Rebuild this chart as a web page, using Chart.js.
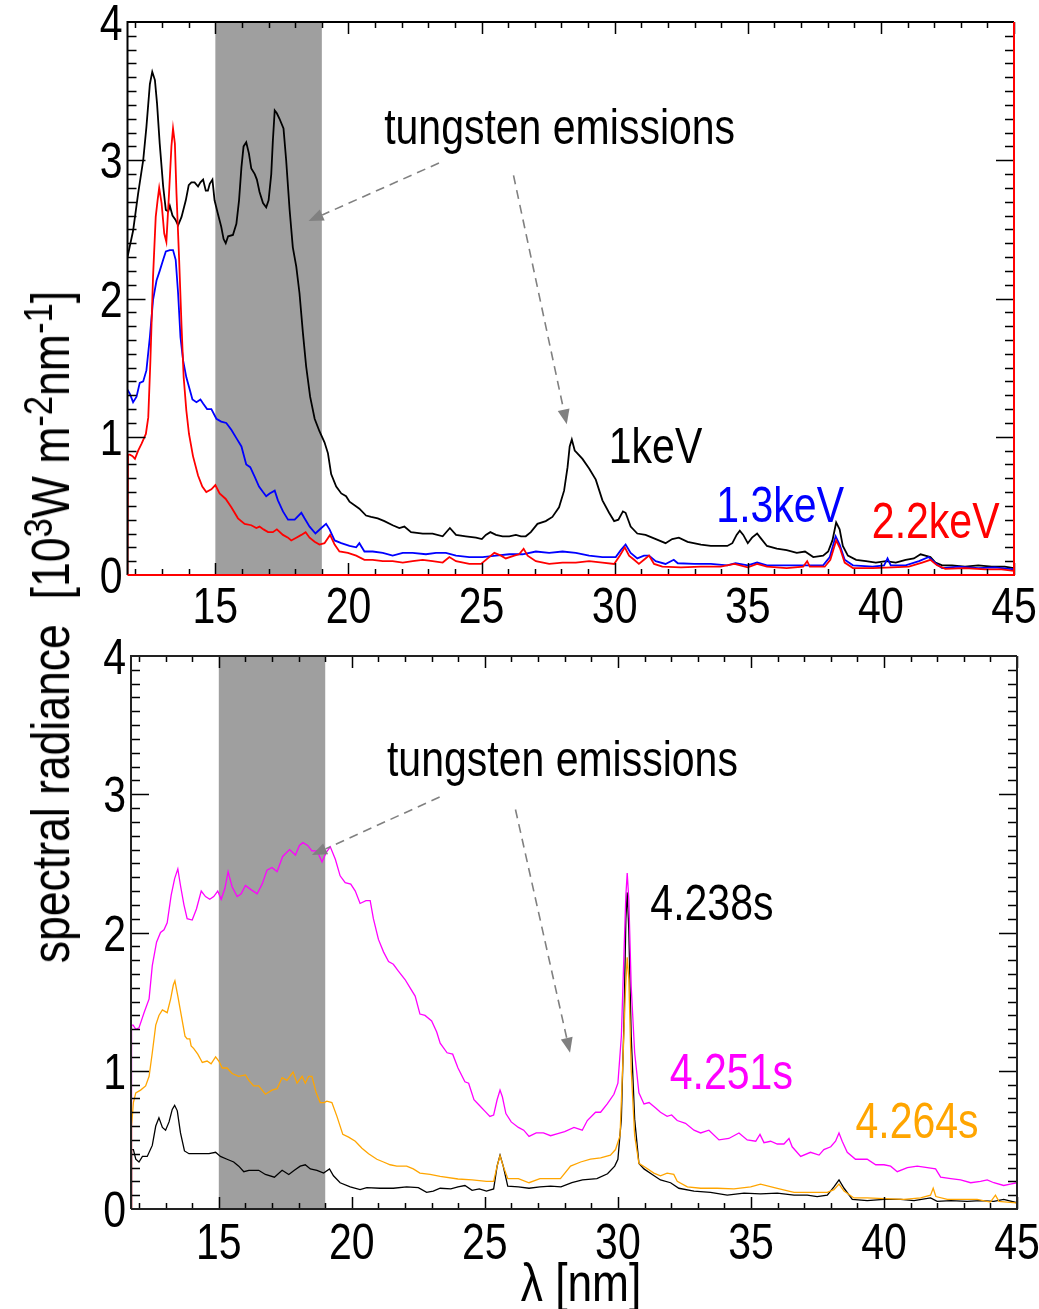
<!DOCTYPE html>
<html>
<head>
<meta charset="utf-8">
<script src="https://cdn.jsdelivr.net/npm/chart.js@4.4.1/dist/chart.umd.min.js"></script>
<style>
  html, body { margin: 0; padding: 0; background: #fff; }
  #page { position: relative; width: 1039px; height: 1309px; overflow: hidden; background: #fff; }
  canvas { position: absolute; left: 0; }
  #cTop { top: 0; }
  #cBottom { top: 610px; }
  .title { position: absolute; white-space: nowrap; color: #000; line-height: 50px;
           font-family: 'Liberation Sans', Arial, sans-serif; }
  #ytitle { left: 51px; top: 627px; font-size: 53px; transform: translate(-50%, -50%) rotate(-90deg) scaleX(0.84); }
  #xtitle { left: 581px; top: 1257px; font-size: 54px; transform: translateX(-50%) scaleX(0.82); }
  .title sup { font-size: 0.78em; position: relative; top: -0.4em; vertical-align: baseline; line-height: 0; }
</style>
</head>
<body>
<div id="page">
  <canvas id="cTop" width="1039" height="650"></canvas>
  <canvas id="cBottom" width="1039" height="699"></canvas>
  <div id="ytitle" class="title">spectral radiance&nbsp; [10<sup>3</sup>W m<sup>-2</sup>nm<sup>-1</sup>]</div>
  <div id="xtitle" class="title">&lambda; [nm]</div>
</div>
<script>
const FONT = "'Liberation Sans', Arial, sans-serif";
const NARROW = 0.82;   // horizontal squeeze for a narrow look

// wavelength axis, nm
const xRange = [11.7, 45];
const xTickLabels = [15, 20, 25, 30, 35, 40, 45];
const yTickLabels = [0, 1, 2, 3, 4];
const tungstenBand = [15, 19];

// upper panel: spectra at different core temperatures [lambda, radiance]
const kev1 = [[11.70,2.30],[11.91,2.49],[12.10,2.76],[12.29,3.00],[12.41,3.24],[12.54,3.55],[12.63,3.64],[12.73,3.58],[12.81,3.41],[12.91,3.12],[13.04,2.81],[13.14,2.64],[13.23,2.63],[13.29,2.67],[13.39,2.60],[13.50,2.57],[13.60,2.53],[13.73,2.59],[13.89,2.71],[14.00,2.82],[14.10,2.84],[14.22,2.84],[14.35,2.81],[14.44,2.84],[14.54,2.86],[14.64,2.78],[14.72,2.78],[14.79,2.83],[14.89,2.86],[14.97,2.71],[15.10,2.61],[15.22,2.52],[15.31,2.43],[15.39,2.40],[15.48,2.45],[15.66,2.46],[15.79,2.54],[15.89,2.71],[15.98,2.95],[16.06,3.10],[16.16,3.13],[16.26,3.05],[16.35,2.94],[16.48,2.90],[16.56,2.86],[16.66,2.77],[16.79,2.69],[16.91,2.66],[17.00,2.71],[17.10,2.90],[17.16,3.14],[17.23,3.36],[17.31,3.34],[17.41,3.30],[17.56,3.23],[17.66,3.00],[17.79,2.64],[17.91,2.37],[18.04,2.23],[18.16,2.04],[18.29,1.75],[18.41,1.51],[18.56,1.29],[18.73,1.13],[18.91,1.04],[19.10,0.96],[19.23,0.88],[19.35,0.73],[19.54,0.64],[19.73,0.59],[19.91,0.57],[20.04,0.53],[20.41,0.48],[20.66,0.43],[20.85,0.42],[21.10,0.41],[21.35,0.39],[21.66,0.36],[21.91,0.34],[22.10,0.35],[22.35,0.31],[22.79,0.30],[23.16,0.30],[23.54,0.28],[23.81,0.34],[24.04,0.29],[24.41,0.28],[24.79,0.27],[25.01,0.26],[25.16,0.29],[25.33,0.31],[25.54,0.29],[25.79,0.28],[26.04,0.28],[26.29,0.29],[26.48,0.28],[26.66,0.28],[26.85,0.31],[27.10,0.37],[27.41,0.39],[27.66,0.42],[27.91,0.49],[28.10,0.61],[28.23,0.78],[28.31,0.93],[28.39,0.98],[28.50,0.90],[28.60,0.88],[28.79,0.84],[29.04,0.77],[29.29,0.69],[29.54,0.54],[29.79,0.45],[29.98,0.39],[30.14,0.40],[30.31,0.46],[30.41,0.45],[30.60,0.35],[30.85,0.30],[31.16,0.29],[31.41,0.27],[31.66,0.25],[31.91,0.23],[32.16,0.26],[32.41,0.27],[32.74,0.24],[33.24,0.22],[33.61,0.21],[33.98,0.21],[34.23,0.21],[34.42,0.23],[34.58,0.29],[34.70,0.32],[34.83,0.29],[35.00,0.23],[35.16,0.27],[35.35,0.30],[35.47,0.27],[35.72,0.21],[36.09,0.19],[36.46,0.18],[36.84,0.16],[37.15,0.17],[37.46,0.13],[37.83,0.14],[38.02,0.17],[38.18,0.25],[38.32,0.38],[38.45,0.33],[38.57,0.21],[38.76,0.14],[39.07,0.11],[39.44,0.10],[39.81,0.09],[40.19,0.10],[40.56,0.09],[40.93,0.11],[41.24,0.12],[41.49,0.15],[41.67,0.14],[41.86,0.13],[42.05,0.09],[42.30,0.07],[42.67,0.07],[43.16,0.06],[43.66,0.07],[44.16,0.06],[44.65,0.06],[45.00,0.05]];

const kev13 = [[11.70,1.34],[11.79,1.31],[11.91,1.25],[12.04,1.29],[12.16,1.39],[12.29,1.40],[12.41,1.48],[12.54,1.72],[12.66,1.99],[12.79,2.13],[12.91,2.20],[13.04,2.28],[13.14,2.34],[13.29,2.35],[13.41,2.35],[13.51,2.28],[13.60,2.04],[13.69,1.72],[13.79,1.55],[13.91,1.43],[14.04,1.34],[14.14,1.27],[14.29,1.25],[14.44,1.27],[14.54,1.24],[14.69,1.20],[14.85,1.20],[15.04,1.13],[15.22,1.11],[15.41,1.10],[15.60,1.05],[15.79,0.99],[15.98,0.93],[16.16,0.80],[16.31,0.78],[16.48,0.71],[16.64,0.64],[16.79,0.60],[16.91,0.57],[17.04,0.59],[17.23,0.61],[17.35,0.54],[17.54,0.46],[17.73,0.40],[17.98,0.40],[18.23,0.45],[18.35,0.41],[18.54,0.35],[18.76,0.30],[18.98,0.34],[19.16,0.37],[19.29,0.33],[19.48,0.25],[19.73,0.23],[20.04,0.21],[20.29,0.20],[20.41,0.23],[20.60,0.17],[20.91,0.17],[21.29,0.16],[21.66,0.14],[22.04,0.16],[22.41,0.16],[22.91,0.15],[23.29,0.16],[23.66,0.16],[24.04,0.14],[24.54,0.13],[25.04,0.13],[25.54,0.14],[26.04,0.15],[26.54,0.15],[27.04,0.17],[27.54,0.16],[28.04,0.17],[28.54,0.16],[29.04,0.14],[29.54,0.13],[30.04,0.13],[30.23,0.18],[30.41,0.22],[30.60,0.16],[30.85,0.12],[31.10,0.14],[31.29,0.14],[31.54,0.10],[31.91,0.08],[32.22,0.11],[32.37,0.085],[32.99,0.08],[33.61,0.08],[34.23,0.07],[34.54,0.085],[35.00,0.07],[35.35,0.09],[35.72,0.07],[36.46,0.07],[37.21,0.07],[37.83,0.07],[38.08,0.13],[38.30,0.28],[38.45,0.22],[38.64,0.11],[38.95,0.07],[39.69,0.06],[40.12,0.07],[40.25,0.12],[40.37,0.07],[40.93,0.07],[41.43,0.10],[41.80,0.13],[42.05,0.085],[42.30,0.05],[42.92,0.06],[43.66,0.05],[44.28,0.055],[45.00,0.04]];

const kev22 = [[11.70,0],[11.72,0.87],[11.79,0.87],[11.89,0.86],[11.98,0.84],[12.10,0.90],[12.23,0.95],[12.39,1.02],[12.48,1.14],[12.56,1.55],[12.66,2.16],[12.76,2.59],[12.83,2.71],[12.89,2.80],[12.98,2.69],[13.08,2.47],[13.16,2.41],[13.26,2.76],[13.35,3.10],[13.41,3.23],[13.48,3.12],[13.54,2.76],[13.64,2.28],[13.73,1.80],[13.81,1.43],[13.91,1.19],[14.01,1.02],[14.16,0.86],[14.35,0.72],[14.51,0.64],[14.66,0.60],[14.85,0.62],[15.00,0.65],[15.16,0.59],[15.39,0.55],[15.60,0.49],[15.85,0.41],[16.10,0.37],[16.35,0.36],[16.54,0.34],[16.66,0.35],[16.81,0.33],[16.98,0.31],[17.16,0.31],[17.31,0.33],[17.54,0.29],[17.73,0.27],[17.85,0.25],[18.04,0.27],[18.23,0.29],[18.39,0.31],[18.54,0.27],[18.73,0.24],[18.91,0.22],[19.10,0.23],[19.31,0.29],[19.48,0.22],[19.66,0.17],[19.98,0.16],[20.29,0.14],[20.60,0.11],[20.91,0.11],[21.29,0.10],[21.66,0.10],[22.04,0.09],[22.41,0.10],[22.79,0.11],[23.16,0.10],[23.54,0.09],[23.79,0.13],[24.04,0.10],[24.54,0.08],[24.98,0.08],[25.23,0.12],[25.48,0.16],[25.73,0.14],[25.91,0.12],[26.23,0.14],[26.41,0.15],[26.58,0.19],[26.73,0.14],[27.04,0.10],[27.54,0.08],[28.04,0.09],[28.54,0.09],[29.04,0.10],[29.54,0.09],[29.98,0.08],[30.19,0.14],[30.38,0.20],[30.54,0.14],[30.73,0.11],[30.91,0.08],[31.10,0.11],[31.29,0.14],[31.48,0.08],[31.79,0.06],[32.49,0.055],[33.24,0.06],[33.98,0.06],[34.50,0.08],[35.00,0.055],[35.35,0.08],[35.72,0.06],[36.46,0.05],[37.08,0.06],[37.23,0.10],[37.33,0.06],[37.89,0.06],[38.10,0.11],[38.32,0.25],[38.47,0.19],[38.64,0.09],[38.95,0.05],[39.69,0.05],[40.43,0.055],[41.05,0.06],[41.55,0.09],[41.86,0.11],[42.11,0.07],[42.42,0.045],[43.16,0.05],[43.91,0.04],[44.53,0.04],[45.00,0.03]];

// lower panel: time slices [lambda, radiance]
const t4238 = [[11.70,0],[11.72,0.43],[11.79,0.43],[11.88,0.36],[12.00,0.34],[12.13,0.38],[12.31,0.38],[12.50,0.46],[12.63,0.60],[12.75,0.66],[12.88,0.59],[13.00,0.57],[13.13,0.63],[13.25,0.72],[13.34,0.75],[13.44,0.71],[13.56,0.55],[13.71,0.42],[13.88,0.40],[14.13,0.40],[14.38,0.40],[14.63,0.40],[14.88,0.41],[15.06,0.38],[15.31,0.36],[15.56,0.34],[15.75,0.31],[15.94,0.27],[16.13,0.28],[16.50,0.28],[16.75,0.25],[17.09,0.23],[17.38,0.28],[17.63,0.25],[17.84,0.28],[18.06,0.31],[18.25,0.32],[18.44,0.29],[18.69,0.28],[18.94,0.26],[19.16,0.29],[19.31,0.24],[19.56,0.19],[19.94,0.16],[20.31,0.14],[20.56,0.155],[21.06,0.15],[21.56,0.15],[22.06,0.16],[22.50,0.155],[22.81,0.12],[23.06,0.13],[23.32,0.15],[23.72,0.145],[23.99,0.16],[24.25,0.17],[24.52,0.135],[24.79,0.145],[25.06,0.13],[25.33,0.145],[25.46,0.31],[25.57,0.39],[25.69,0.31],[25.86,0.165],[26.26,0.16],[26.66,0.15],[27.07,0.16],[27.47,0.165],[27.86,0.16],[28.27,0.19],[28.67,0.21],[29.21,0.22],[29.61,0.255],[29.88,0.31],[30.00,0.36],[30.13,0.65],[30.23,1.37],[30.30,2.10],[30.35,2.29],[30.41,2.02],[30.50,1.25],[30.63,0.65],[30.79,0.33],[30.98,0.29],[31.29,0.25],[31.60,0.21],[31.98,0.19],[32.29,0.15],[32.86,0.13],[33.48,0.12],[34.11,0.10],[34.74,0.115],[35.36,0.11],[35.99,0.115],[36.62,0.10],[37.12,0.10],[37.49,0.09],[37.87,0.10],[38.12,0.16],[38.31,0.21],[38.50,0.15],[38.81,0.07],[39.37,0.06],[40.00,0.07],[40.63,0.07],[41.13,0.06],[41.75,0.08],[42.00,0.055],[42.51,0.06],[43.13,0.055],[43.63,0.06],[44.13,0.055],[44.50,0.07],[45.00,0.045]];

const t4251 = [[11.70,0],[11.72,1.33],[11.78,1.33],[11.88,1.30],[12.00,1.31],[12.19,1.42],[12.38,1.52],[12.50,1.76],[12.66,1.93],[12.81,2.00],[12.94,2.02],[13.06,2.07],[13.21,2.27],[13.34,2.39],[13.46,2.46],[13.56,2.34],[13.69,2.20],[13.81,2.10],[14.00,2.09],[14.16,2.17],[14.34,2.30],[14.50,2.26],[14.66,2.24],[14.81,2.26],[14.96,2.30],[15.09,2.24],[15.23,2.32],[15.35,2.44],[15.50,2.33],[15.69,2.26],[15.84,2.28],[16.00,2.34],[16.21,2.31],[16.44,2.28],[16.63,2.35],[16.81,2.45],[17.00,2.47],[17.19,2.44],[17.40,2.55],[17.66,2.60],[17.88,2.56],[18.03,2.63],[18.16,2.65],[18.34,2.63],[18.50,2.59],[18.69,2.59],[18.88,2.51],[19.04,2.58],[19.19,2.62],[19.38,2.53],[19.56,2.41],[19.75,2.36],[19.96,2.35],[20.13,2.30],[20.31,2.21],[20.53,2.23],[20.69,2.23],[20.81,2.10],[21.00,1.95],[21.19,1.86],[21.38,1.79],[21.56,1.77],[21.75,1.72],[22.00,1.66],[22.19,1.60],[22.38,1.54],[22.56,1.41],[22.75,1.40],[23.00,1.36],[23.19,1.28],[23.32,1.20],[23.58,1.13],[23.79,1.12],[23.99,1.02],[24.25,0.92],[24.39,0.91],[24.59,0.79],[24.79,0.75],[24.99,0.71],[25.19,0.67],[25.33,0.68],[25.46,0.79],[25.57,0.86],[25.66,0.81],[25.79,0.69],[25.99,0.63],[26.26,0.59],[26.46,0.57],[26.66,0.525],[26.93,0.55],[27.20,0.55],[27.47,0.53],[27.74,0.545],[28.00,0.56],[28.35,0.59],[28.66,0.57],[28.85,0.64],[29.16,0.70],[29.35,0.70],[29.60,0.76],[29.85,0.83],[30.00,0.91],[30.13,1.25],[30.23,1.86],[30.30,2.27],[30.35,2.43],[30.41,2.24],[30.50,1.61],[30.63,1.13],[30.79,0.84],[30.98,0.76],[31.17,0.77],[31.42,0.73],[31.60,0.70],[31.85,0.67],[32.02,0.68],[32.23,0.64],[32.54,0.62],[32.86,0.57],[33.11,0.55],[33.42,0.57],[33.80,0.50],[34.17,0.51],[34.55,0.55],[34.86,0.50],[35.18,0.49],[35.34,0.54],[35.49,0.48],[35.74,0.49],[35.99,0.47],[36.24,0.47],[36.43,0.51],[36.55,0.45],[36.87,0.38],[37.24,0.41],[37.56,0.39],[37.74,0.43],[38.00,0.45],[38.18,0.49],[38.31,0.55],[38.43,0.49],[38.62,0.41],[38.93,0.36],[39.37,0.36],[39.69,0.32],[40.00,0.32],[40.25,0.31],[40.50,0.27],[40.88,0.30],[41.25,0.31],[41.63,0.30],[41.94,0.29],[42.13,0.23],[42.51,0.22],[42.88,0.21],[43.26,0.19],[43.63,0.20],[43.88,0.21],[44.13,0.19],[44.50,0.17],[44.75,0.18],[45.00,0.19]];

const t4264 = [[11.70,0],[11.72,0.60],[11.79,0.77],[11.88,0.84],[12.06,0.86],[12.25,0.89],[12.38,0.96],[12.50,1.13],[12.63,1.33],[12.75,1.40],[12.88,1.44],[13.06,1.42],[13.19,1.52],[13.29,1.62],[13.35,1.65],[13.46,1.54],[13.59,1.40],[13.73,1.25],[13.81,1.23],[13.91,1.23],[13.96,1.18],[14.06,1.16],[14.21,1.12],[14.38,1.06],[14.56,1.07],[14.71,1.05],[14.88,1.10],[15.00,1.07],[15.13,1.02],[15.31,1.02],[15.50,0.98],[15.75,0.96],[16.00,0.97],[16.13,0.93],[16.31,0.89],[16.50,0.89],[16.75,0.83],[17.00,0.86],[17.19,0.87],[17.38,0.95],[17.56,0.93],[17.79,0.99],[17.94,0.91],[18.13,0.96],[18.25,0.91],[18.38,0.96],[18.50,0.96],[18.66,0.84],[18.81,0.77],[18.96,0.77],[19.06,0.78],[19.25,0.77],[19.44,0.67],[19.66,0.54],[19.88,0.52],[20.13,0.49],[20.38,0.44],[20.63,0.40],[20.94,0.36],[21.19,0.34],[21.44,0.32],[21.69,0.31],[22.06,0.31],[22.31,0.29],[22.56,0.26],[22.94,0.25],[23.32,0.236],[23.99,0.217],[24.52,0.21],[25.06,0.20],[25.33,0.20],[25.46,0.31],[25.57,0.385],[25.69,0.31],[25.86,0.22],[26.26,0.22],[26.66,0.19],[27.07,0.22],[27.47,0.22],[27.84,0.22],[28.22,0.31],[28.60,0.34],[28.97,0.36],[29.35,0.37],[29.72,0.39],[29.91,0.43],[30.08,0.53],[30.20,1.13],[30.29,1.61],[30.35,1.82],[30.41,1.66],[30.50,1.01],[30.63,0.53],[30.79,0.33],[31.04,0.30],[31.35,0.26],[31.60,0.24],[31.85,0.26],[32.10,0.25],[32.23,0.20],[32.61,0.16],[33.11,0.15],[33.73,0.15],[34.36,0.145],[34.99,0.16],[35.36,0.18],[35.99,0.15],[36.62,0.12],[37.24,0.12],[37.87,0.12],[38.12,0.14],[38.31,0.18],[38.50,0.13],[38.87,0.08],[39.37,0.08],[40.00,0.075],[40.75,0.07],[41.38,0.08],[41.75,0.10],[41.85,0.15],[41.95,0.09],[42.38,0.07],[42.88,0.07],[43.50,0.07],[44.00,0.05],[44.19,0.10],[44.32,0.055],[44.63,0.05],[45.00,0.045]];

// annotation arrows [from, to] in data units
const arrowsTop = [[[23.4, 2.98], [18.5, 2.56]], [[26.2, 2.89], [28.2, 1.09]]];
const arrowsBottom = [[[23.3, 2.98], [18.5, 2.56]], [[26.15, 2.89], [28.2, 1.13]]];

// labels [text, lambda, radiance, colour]
const notesTop = [
  ['tungsten emissions', 21.34, 3.12, '#000'],
  ['1keV', 29.78, 0.81, '#000'],
  ['1.3keV', 33.82, 0.385, '#0000ff'],
  ['2.2keV', 39.66, 0.265, '#ff0000']
];
const notesBottom = [
  ['tungsten emissions', 21.32, 3.13, '#000'],
  ['4.238s', 31.22, 2.09, '#000'],
  ['4.251s', 31.95, 0.87, '#ff00ff'],
  ['4.264s', 38.93, 0.51, '#ffa500']
];

function toXY(pts) {
  return pts.map(p => ({x: p[0], y: p[1]}));
}

// text squeezed horizontally around its anchor
function narrowText(ctx, text, x, y, align, baseline) {
  ctx.save();
  ctx.translate(x, y);
  ctx.scale(NARROW, 1);
  ctx.textAlign = align;
  ctx.textBaseline = baseline;
  ctx.fillText(text, 0, 0);
  ctx.restore();
}

function drawArrow(ctx, x0, y0, x1, y1) {
  const ang = Math.atan2(y1 - y0, x1 - x0);
  const head = 15, half = 6;
  const bx = x1 - head * Math.cos(ang), by = y1 - head * Math.sin(ang);
  ctx.save();
  ctx.strokeStyle = '#808080';
  ctx.fillStyle = '#808080';
  ctx.lineWidth = 1.6;
  ctx.setLineDash([9, 6]);
  ctx.beginPath();
  ctx.moveTo(x0, y0);
  ctx.lineTo(bx, by);
  ctx.stroke();
  ctx.setLineDash([]);
  ctx.beginPath();
  ctx.moveTo(x1, y1);
  ctx.lineTo(bx - half * Math.sin(ang), by + half * Math.cos(ang));
  ctx.lineTo(bx + half * Math.sin(ang), by - half * Math.cos(ang));
  ctx.closePath();
  ctx.fill();
  ctx.restore();
}

// shaded band, frame with inward ticks, tick labels, arrows and notes
const framePlugin = {
  id: 'frame',
  beforeDatasetsDraw(chart, args, opts) {
    const {ctx, chartArea: a, scales: {x}} = chart;
    const x0 = x.getPixelForValue(tungstenBand[0]);
    const x1 = x.getPixelForValue(tungstenBand[1]);
    ctx.save();
    ctx.fillStyle = '#9f9f9f';
    ctx.fillRect(x0, a.top, x1 - x0, a.bottom - a.top);
    ctx.restore();
  },
  afterDatasetsDraw(chart, args, opts) {
    const {ctx, chartArea: a, scales: {x, y}} = chart;
    ctx.save();
    ctx.strokeStyle = '#000';
    ctx.lineWidth = 1.5;
    ctx.beginPath();
    for (let v = 12; v <= 45; v++) {
      const px = Math.round(x.getPixelForValue(v)) + 0.5;
      const len = v % 5 === 0 ? 12 : 6;
      ctx.moveTo(px, a.bottom); ctx.lineTo(px, a.bottom - len);
      ctx.moveTo(px, a.top); ctx.lineTo(px, a.top + len);
    }
    for (let i = 1; i < 40; i++) {
      const py = Math.round(y.getPixelForValue(i / 10)) + 0.5;
      const len = i % 10 === 0 ? 18 : 9;
      ctx.moveTo(a.left, py); ctx.lineTo(a.left + len, py);
      ctx.moveTo(a.right, py); ctx.lineTo(a.right - len, py);
    }
    ctx.stroke();

    ctx.lineWidth = 2;
    ctx.strokeStyle = opts.frameColor;
    ctx.beginPath();
    ctx.moveTo(a.left, a.bottom); ctx.lineTo(a.left, a.top); ctx.lineTo(a.right, a.top);
    ctx.stroke();
    ctx.strokeStyle = opts.lowerRightColor;
    ctx.beginPath();
    ctx.moveTo(a.right, a.top); ctx.lineTo(a.right, a.bottom); ctx.lineTo(a.left, a.bottom);
    ctx.stroke();

    // tick labels placed from the scales
    ctx.font = '50px ' + FONT;
    ctx.fillStyle = '#000';
    xTickLabels.forEach(v => {
      narrowText(ctx, String(v), x.getPixelForValue(v), a.bottom + opts.xLabelDrop, 'center', 'alphabetic');
    });
    yTickLabels.forEach(v => {
      narrowText(ctx, String(v), a.left - 5, y.getPixelForValue(v) + 18, 'right', 'alphabetic');
    });

    opts.arrows.forEach(([from, to]) => {
      drawArrow(ctx, x.getPixelForValue(from[0]), y.getPixelForValue(from[1]),
                x.getPixelForValue(to[0]), y.getPixelForValue(to[1]));
    });

    opts.notes.forEach(([text, lx, ly, color]) => {
      ctx.fillStyle = color;
      narrowText(ctx, text, x.getPixelForValue(lx), y.getPixelForValue(ly), 'left', 'alphabetic');
    });
    ctx.restore();
  }
};

function lineSet(pts, color, width) {
  return {data: toXY(pts), borderColor: color, borderWidth: width, pointRadius: 0, tension: 0, fill: false};
}

function panelOptions(cfg) {
  return {
    responsive: false,
    animation: false,
    layout: {padding: cfg.padding},
    plugins: {legend: {display: false}, tooltip: {enabled: false}, frame: cfg.frame},
    scales: {
      x: {
        type: 'linear', min: xRange[0], max: xRange[1],
        grid: {display: false, drawTicks: false}, border: {display: false},
        ticks: {display: false},
        afterFit: s => { s.height = cfg.xHeight; s.paddingLeft = 0; s.paddingRight = 0; }
      },
      y: {
        type: 'linear', min: 0, max: 4,
        grid: {display: false, drawTicks: false}, border: {display: false},
        ticks: {display: false},
        afterFit: s => { s.width = 60; s.paddingTop = 0; s.paddingBottom = 0; }
      }
    }
  };
}

new Chart(document.getElementById('cTop'), {
  type: 'line',
  data: {
    datasets: [
      lineSet(kev22, '#ff0000', 1.8),
      lineSet(kev13, '#0000ff', 1.8),
      lineSet(kev1, '#000000', 1.8)
    ]
  },
  options: panelOptions({
    padding: {left: 67.5, right: 25, top: 22, bottom: 0},
    xHeight: 75,
    frame: {frameColor: '#000', lowerRightColor: '#ff0000', xLabelDrop: 48,
            arrows: arrowsTop, notes: notesTop}
  }),
  plugins: [framePlugin]
});

new Chart(document.getElementById('cBottom'), {
  type: 'line',
  data: {
    datasets: [
      lineSet(t4264, '#ffa500', 1.3),
      lineSet(t4251, '#ff00ff', 1.3),
      lineSet(t4238, '#000000', 1.3)
    ]
  },
  options: panelOptions({
    padding: {left: 71, right: 22, top: 46, bottom: 0},
    xHeight: 100,
    frame: {frameColor: '#222', lowerRightColor: '#222', xLabelDrop: 50,
            arrows: arrowsBottom, notes: notesBottom}
  }),
  plugins: [framePlugin]
});
</script>
</body>
</html>
